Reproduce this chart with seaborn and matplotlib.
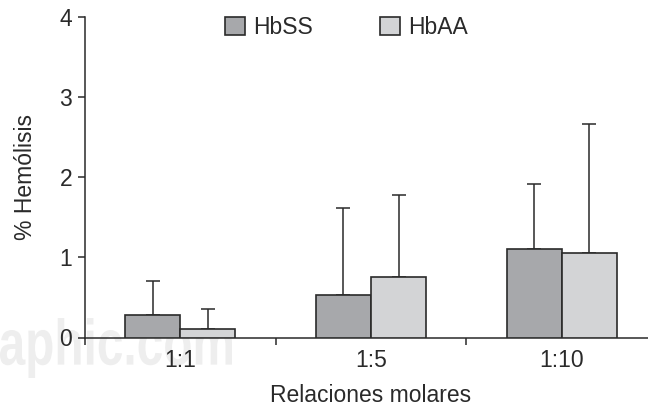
import numpy as np
import pandas as pd
import matplotlib
matplotlib.use("Agg")
import matplotlib.pyplot as plt
import matplotlib.transforms as mtransforms
from matplotlib.textpath import TextPath
from matplotlib.patches import PathPatch
from matplotlib.font_manager import FontProperties
from matplotlib.ticker import FixedLocator, NullFormatter
import seaborn as sns

# Molar ratios and hemolysis (%) per hemoglobin type: mean and SD
ratios = ["1:1", "1:5", "1:10"]
groups = ["HbSS", "HbAA"]
hbss_mean = [0.28, 0.53, 1.10]
hbss_sd = [0.43, 1.08, 0.81]
hbaa_mean = [0.10, 0.76, 1.06]
hbaa_sd = [0.255, 1.015, 1.61]
y_ticks = [0, 1, 2, 3, 4]

W, H = 648, 408
DPI = 100

sns.set_theme(style="ticks")
plt.rcParams["font.family"] = ["Liberation Sans", "DejaVu Sans"]

ink = "#2a2a2a"
palette = {"HbSS": "#a7a8ab", "HbAA": "#d3d4d6"}

df = pd.DataFrame({
    "ratio": ratios * 2,
    "group": ["HbSS"] * 3 + ["HbAA"] * 3,
    "value": hbss_mean + hbaa_mean,
})

fig = plt.figure(figsize=(W / DPI, H / DPI), dpi=DPI)

# faint background stamp
fp = FontProperties(family="Liberation Sans", weight="bold")
tp = TextPath((0, 0), "aphic.com", size=100, prop=fp)
ext = tp.get_extents()
x0, x1, yb, yt = 0, 232, H - 378, H - 318
sx = (x1 - x0) / ext.width
sy = (yt - yb) / ext.height
tr = (mtransforms.Affine2D()
      .translate(-ext.x0, -ext.y0)
      .scale(sx / W, sy / H)
      .translate(x0 / W, yb / H))
fig.add_artist(PathPatch(tp, transform=tr + fig.transFigure,
                         facecolor="#eeeeee", edgecolor="none", zorder=0))

# axes placed in pixel units: y-axis at x=85, y=0 at 337.5, y=4 at 17
left, right = 85, 657
bottom, top = H - 337.5, H - 17
ax = fig.add_axes([left / W, bottom / H, (right - left) / W, (top - bottom) / H])
ax.patch.set_alpha(0)

sns.barplot(data=df, x="ratio", y="value", hue="group", order=ratios,
            hue_order=groups, palette=palette, width=0.577, errorbar=None,
            edgecolor=ink, linewidth=1.2, saturation=1, ax=ax, zorder=3)

# one-sided (upper) SD bars from the bar centres
sds = {"HbSS": hbss_sd, "HbAA": hbaa_sd}
means = {"HbSS": hbss_mean, "HbAA": hbaa_mean}
for cont, g in zip(ax.containers, groups):
    xs = [p.get_x() + p.get_width() / 2 for p in cont.patches]
    ax.errorbar(xs, means[g], yerr=[np.zeros(3), sds[g]], fmt="none",
                ecolor=ink, elinewidth=1.1, capsize=5, capthick=1.1, zorder=2)

ax.set_xlim(-0.5, 2.5)
ax.set_ylim(0, 4)
ax.set_yticks(y_ticks)
ax.set_yticklabels([str(t) for t in y_ticks])

ax.xaxis.set_minor_locator(FixedLocator([-0.5, 0.5, 1.5, 2.5]))
ax.xaxis.set_minor_formatter(NullFormatter())
ax.tick_params(axis="x", which="major", length=0, pad=8.5, labelsize=16.5, colors=ink)
ax.tick_params(axis="x", which="minor", length=5, width=1.1, color=ink, direction="out")
ax.tick_params(axis="y", length=5, width=1.1, pad=4.3, labelsize=16.5, colors=ink)

for s in ["top", "right"]:
    ax.spines[s].set_visible(False)
for s in ["left", "bottom"]:
    ax.spines[s].set_color(ink)
    ax.spines[s].set_linewidth(1.1)

ax.set_xlabel("Relaciones molares", fontsize=16.5, color=ink, labelpad=8.5)
ax.set_ylabel("% Hemólisis", fontsize=16.5, color=ink, labelpad=16)

ax.legend_.remove()
handles = [plt.Rectangle((0, 0), 1, 1, facecolor=palette[g], edgecolor=ink, linewidth=1.2)
           for g in groups]
fig.legend(handles, groups, loc="center left",
           bbox_to_anchor=(225 / W, 1 - 27.5 / H), ncol=2, frameon=False,
           fontsize=16.5, handlelength=0.87, handleheight=0.87,
           handletextpad=0.36, columnspacing=2.94, borderpad=0, borderaxespad=0,
           labelcolor=ink)

fig.savefig("out.png", dpi=DPI)
